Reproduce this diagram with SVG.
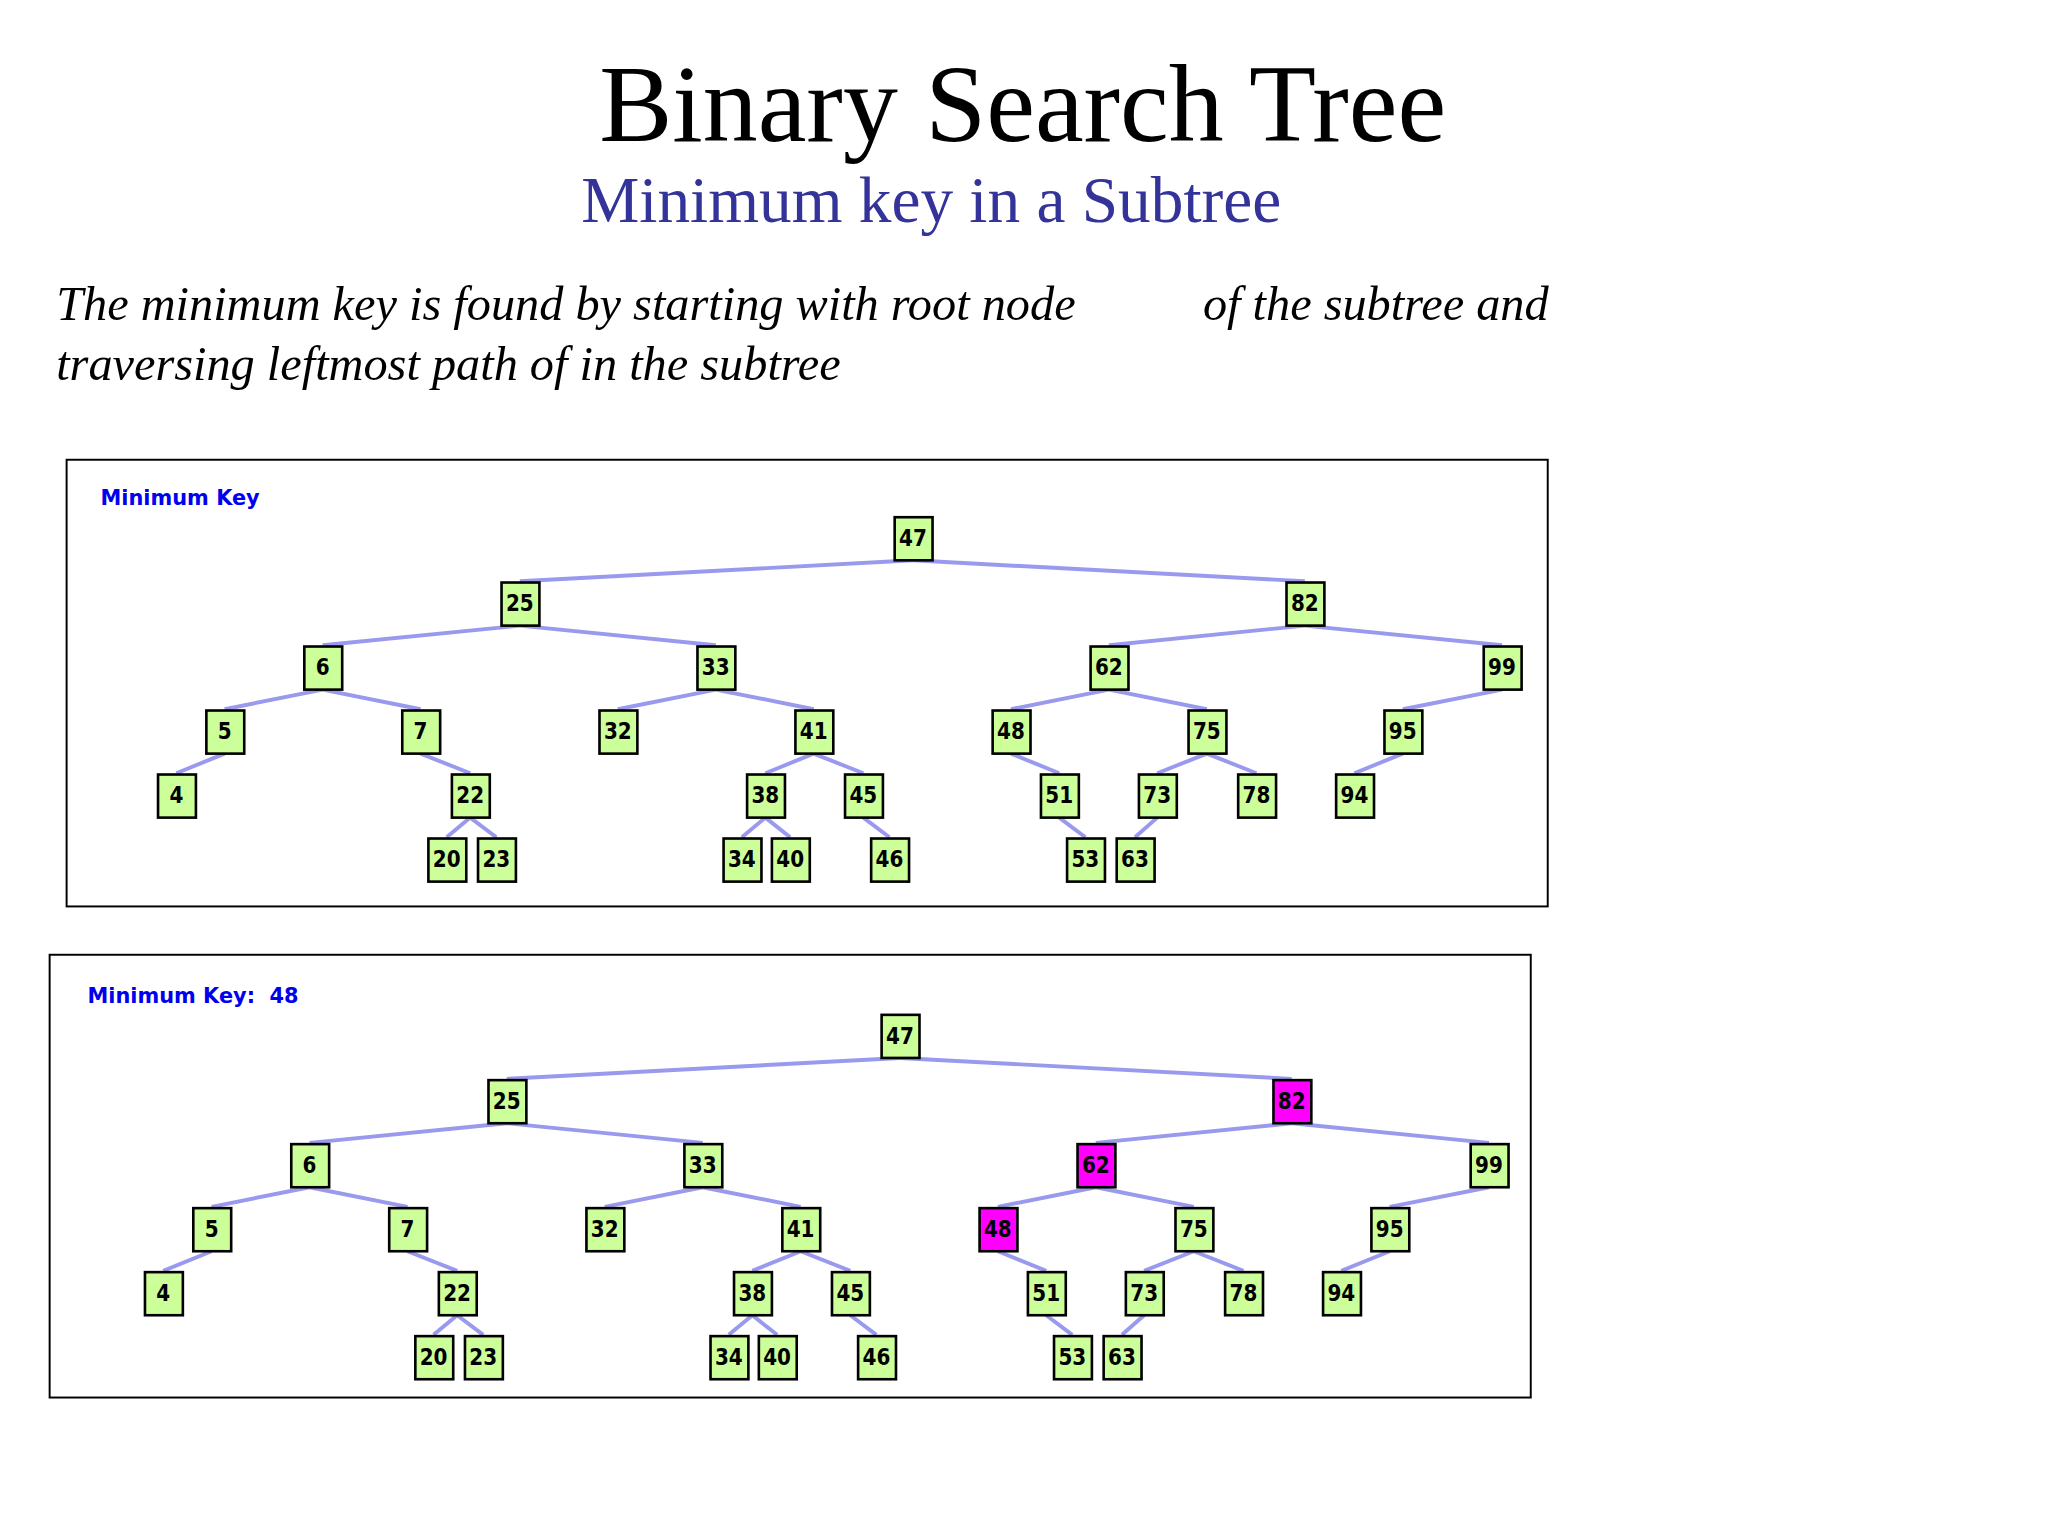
<svg xmlns="http://www.w3.org/2000/svg" width="2048" height="1536" viewBox="0 0 2048 1536">
<style>
.n rect{fill:#ccff99;stroke:#000;stroke-width:2}
.n.m rect{fill:#ff00ff}
.n text{font-family:"DejaVu Sans Condensed","DejaVu Sans",sans-serif;font-weight:bold;font-size:17px;text-anchor:middle;fill:#000}
.e line{stroke:#9999ee;stroke-width:3}
.frame{fill:none;stroke:#000;stroke-width:1.5}
.lbl{font-family:"DejaVu Sans",sans-serif;font-weight:bold;font-size:16px;fill:#0000ee}
</style>
<rect width="2048" height="1536" fill="#fff"/>
<g transform="scale(1.3061)">
<text x="783" y="108" font-family="Liberation Serif,serif" font-size="84" text-anchor="middle">Binary Search Tree</text>
<text x="445" y="170" font-family="Liberation Serif,serif" font-size="50" fill="#333399">Minimum key in a Subtree</text>
<g font-family="Liberation Serif,serif" font-size="37" font-style="italic">
<text x="43" y="245">The minimum key is found by starting with root node</text>
<text x="921" y="245">of the subtree  and</text>
<text x="43" y="291">traversing leftmost path of  in the subtree</text>
</g>
<rect class="frame" x="51" y="352" width="1134" height="342"/>
<text class="lbl" x="77" y="387">Minimum Key</text>
<rect class="frame" x="38" y="731" width="1134" height="339"/>
<text class="lbl" x="67" y="768" xml:space="preserve">Minimum Key:  48</text>

<g id="tree1">
<g id="connectors1" class="e">
<line x1="699" y1="429" x2="398" y2="445"/><line x1="699" y1="429" x2="999" y2="445"/>
<line x1="398" y1="479" x2="247" y2="494"/><line x1="398" y1="479" x2="548" y2="494"/>
<line x1="999" y1="479" x2="849" y2="494"/><line x1="999" y1="479" x2="1150" y2="494"/>
<line x1="247" y1="528" x2="172" y2="543"/><line x1="247" y1="528" x2="322" y2="543"/>
<line x1="548" y1="528" x2="473" y2="543"/><line x1="548" y1="528" x2="623" y2="543"/>
<line x1="849" y1="528" x2="774" y2="543"/><line x1="849" y1="528" x2="924" y2="543"/>
<line x1="1150" y1="528" x2="1074" y2="543"/>
<line x1="172" y1="577" x2="135" y2="592"/><line x1="322" y1="577" x2="360" y2="592"/>
<line x1="623" y1="577" x2="586" y2="592"/><line x1="623" y1="577" x2="661" y2="592"/>
<line x1="774" y1="577" x2="811" y2="592"/>
<line x1="924" y1="577" x2="886" y2="592"/><line x1="924" y1="577" x2="962" y2="592"/>
<line x1="1074" y1="577" x2="1037" y2="592"/>
<line x1="360" y1="626" x2="342" y2="641"/><line x1="360" y1="626" x2="380" y2="641"/>
<line x1="586" y1="626" x2="568" y2="641"/><line x1="586" y1="626" x2="605" y2="641"/>
<line x1="661" y1="626" x2="681" y2="641"/>
<line x1="811" y1="626" x2="831" y2="641"/><line x1="886" y1="626" x2="869" y2="641"/>
</g>
<g id="a47" class="n"><rect x="685" y="396" width="29" height="33"/><text x="699" y="418">47</text></g>
<g id="a25" class="n"><rect x="384" y="446" width="29" height="33"/><text x="398" y="468">25</text></g>
<g id="a82" class="n"><rect x="985" y="446" width="29" height="33"/><text x="999" y="468">82</text></g>
<g id="a6" class="n"><rect x="233" y="495" width="29" height="33"/><text x="247" y="517">6</text></g>
<g id="a33" class="n"><rect x="534" y="495" width="29" height="33"/><text x="548" y="517">33</text></g>
<g id="a62" class="n"><rect x="835" y="495" width="29" height="33"/><text x="849" y="517">62</text></g>
<g id="a99" class="n"><rect x="1136" y="495" width="29" height="33"/><text x="1150" y="517">99</text></g>
<g id="a5" class="n"><rect x="158" y="544" width="29" height="33"/><text x="172" y="566">5</text></g>
<g id="a7" class="n"><rect x="308" y="544" width="29" height="33"/><text x="322" y="566">7</text></g>
<g id="a32" class="n"><rect x="459" y="544" width="29" height="33"/><text x="473" y="566">32</text></g>
<g id="a41" class="n"><rect x="609" y="544" width="29" height="33"/><text x="623" y="566">41</text></g>
<g id="a48" class="n"><rect x="760" y="544" width="29" height="33"/><text x="774" y="566">48</text></g>
<g id="a75" class="n"><rect x="910" y="544" width="29" height="33"/><text x="924" y="566">75</text></g>
<g id="a95" class="n"><rect x="1060" y="544" width="29" height="33"/><text x="1074" y="566">95</text></g>
<g id="a4" class="n"><rect x="121" y="593" width="29" height="33"/><text x="135" y="615">4</text></g>
<g id="a22" class="n"><rect x="346" y="593" width="29" height="33"/><text x="360" y="615">22</text></g>
<g id="a38" class="n"><rect x="572" y="593" width="29" height="33"/><text x="586" y="615">38</text></g>
<g id="a45" class="n"><rect x="647" y="593" width="29" height="33"/><text x="661" y="615">45</text></g>
<g id="a51" class="n"><rect x="797" y="593" width="29" height="33"/><text x="811" y="615">51</text></g>
<g id="a73" class="n"><rect x="872" y="593" width="29" height="33"/><text x="886" y="615">73</text></g>
<g id="a78" class="n"><rect x="948" y="593" width="29" height="33"/><text x="962" y="615">78</text></g>
<g id="a94" class="n"><rect x="1023" y="593" width="29" height="33"/><text x="1037" y="615">94</text></g>
<g id="a20" class="n"><rect x="328" y="642" width="29" height="33"/><text x="342" y="664">20</text></g>
<g id="a23" class="n"><rect x="366" y="642" width="29" height="33"/><text x="380" y="664">23</text></g>
<g id="a34" class="n"><rect x="554" y="642" width="29" height="33"/><text x="568" y="664">34</text></g>
<g id="a40" class="n"><rect x="591" y="642" width="29" height="33"/><text x="605" y="664">40</text></g>
<g id="a46" class="n"><rect x="667" y="642" width="29" height="33"/><text x="681" y="664">46</text></g>
<g id="a53" class="n"><rect x="817" y="642" width="29" height="33"/><text x="831" y="664">53</text></g>
<g id="a63" class="n"><rect x="855" y="642" width="29" height="33"/><text x="869" y="664">63</text></g>
</g>

<g id="tree2" transform="translate(-10,381)">
<g id="connectors2" class="e">
<line x1="699" y1="429" x2="398" y2="445"/><line x1="699" y1="429" x2="999" y2="445"/>
<line x1="398" y1="479" x2="247" y2="494"/><line x1="398" y1="479" x2="548" y2="494"/>
<line x1="999" y1="479" x2="849" y2="494"/><line x1="999" y1="479" x2="1150" y2="494"/>
<line x1="247" y1="528" x2="172" y2="543"/><line x1="247" y1="528" x2="322" y2="543"/>
<line x1="548" y1="528" x2="473" y2="543"/><line x1="548" y1="528" x2="623" y2="543"/>
<line x1="849" y1="528" x2="774" y2="543"/><line x1="849" y1="528" x2="924" y2="543"/>
<line x1="1150" y1="528" x2="1074" y2="543"/>
<line x1="172" y1="577" x2="135" y2="592"/><line x1="322" y1="577" x2="360" y2="592"/>
<line x1="623" y1="577" x2="586" y2="592"/><line x1="623" y1="577" x2="661" y2="592"/>
<line x1="774" y1="577" x2="811" y2="592"/>
<line x1="924" y1="577" x2="886" y2="592"/><line x1="924" y1="577" x2="962" y2="592"/>
<line x1="1074" y1="577" x2="1037" y2="592"/>
<line x1="360" y1="626" x2="342" y2="641"/><line x1="360" y1="626" x2="380" y2="641"/>
<line x1="586" y1="626" x2="568" y2="641"/><line x1="586" y1="626" x2="605" y2="641"/>
<line x1="661" y1="626" x2="681" y2="641"/>
<line x1="811" y1="626" x2="831" y2="641"/><line x1="886" y1="626" x2="869" y2="641"/>
</g>
<g id="b47" class="n"><rect x="685" y="396" width="29" height="33"/><text x="699" y="418">47</text></g>
<g id="b25" class="n"><rect x="384" y="446" width="29" height="33"/><text x="398" y="468">25</text></g>
<g id="b82" class="n m"><rect x="985" y="446" width="29" height="33"/><text x="999" y="468">82</text></g>
<g id="b6" class="n"><rect x="233" y="495" width="29" height="33"/><text x="247" y="517">6</text></g>
<g id="b33" class="n"><rect x="534" y="495" width="29" height="33"/><text x="548" y="517">33</text></g>
<g id="b62" class="n m"><rect x="835" y="495" width="29" height="33"/><text x="849" y="517">62</text></g>
<g id="b99" class="n"><rect x="1136" y="495" width="29" height="33"/><text x="1150" y="517">99</text></g>
<g id="b5" class="n"><rect x="158" y="544" width="29" height="33"/><text x="172" y="566">5</text></g>
<g id="b7" class="n"><rect x="308" y="544" width="29" height="33"/><text x="322" y="566">7</text></g>
<g id="b32" class="n"><rect x="459" y="544" width="29" height="33"/><text x="473" y="566">32</text></g>
<g id="b41" class="n"><rect x="609" y="544" width="29" height="33"/><text x="623" y="566">41</text></g>
<g id="b48" class="n m"><rect x="760" y="544" width="29" height="33"/><text x="774" y="566">48</text></g>
<g id="b75" class="n"><rect x="910" y="544" width="29" height="33"/><text x="924" y="566">75</text></g>
<g id="b95" class="n"><rect x="1060" y="544" width="29" height="33"/><text x="1074" y="566">95</text></g>
<g id="b4" class="n"><rect x="121" y="593" width="29" height="33"/><text x="135" y="615">4</text></g>
<g id="b22" class="n"><rect x="346" y="593" width="29" height="33"/><text x="360" y="615">22</text></g>
<g id="b38" class="n"><rect x="572" y="593" width="29" height="33"/><text x="586" y="615">38</text></g>
<g id="b45" class="n"><rect x="647" y="593" width="29" height="33"/><text x="661" y="615">45</text></g>
<g id="b51" class="n"><rect x="797" y="593" width="29" height="33"/><text x="811" y="615">51</text></g>
<g id="b73" class="n"><rect x="872" y="593" width="29" height="33"/><text x="886" y="615">73</text></g>
<g id="b78" class="n"><rect x="948" y="593" width="29" height="33"/><text x="962" y="615">78</text></g>
<g id="b94" class="n"><rect x="1023" y="593" width="29" height="33"/><text x="1037" y="615">94</text></g>
<g id="b20" class="n"><rect x="328" y="642" width="29" height="33"/><text x="342" y="664">20</text></g>
<g id="b23" class="n"><rect x="366" y="642" width="29" height="33"/><text x="380" y="664">23</text></g>
<g id="b34" class="n"><rect x="554" y="642" width="29" height="33"/><text x="568" y="664">34</text></g>
<g id="b40" class="n"><rect x="591" y="642" width="29" height="33"/><text x="605" y="664">40</text></g>
<g id="b46" class="n"><rect x="667" y="642" width="29" height="33"/><text x="681" y="664">46</text></g>
<g id="b53" class="n"><rect x="817" y="642" width="29" height="33"/><text x="831" y="664">53</text></g>
<g id="b63" class="n"><rect x="855" y="642" width="29" height="33"/><text x="869" y="664">63</text></g>
</g>
</g>
</svg>
